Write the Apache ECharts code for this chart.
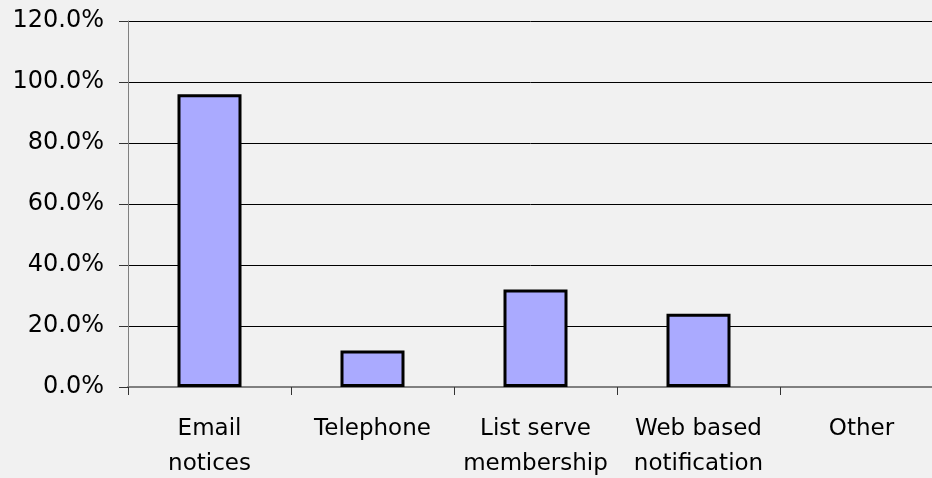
<!DOCTYPE html>
<html>
<head>
<meta charset="utf-8">
<script src="https://cdn.jsdelivr.net/npm/echarts@6/dist/echarts.min.js"></script>
<style>
  html, body { margin: 0; padding: 0; background: #f1f1f1; }
  #chart { width: 932px; height: 478px; }
</style>
</head>
<body>
<div id="chart"></div>
<script>
// chart data
const categories = ["Email\nnotices", "Telephone", "List serve\nmembership", "Web based\nnotification", "Other"];
const shares = [0.96, 0.12, 0.32, 0.24, 0];

let myChart = echarts.init(document.getElementById("chart"));

myChart.setOption({
  backgroundColor: "#f1f1f1",
  animation: false,
  textStyle: { fontFamily: "DejaVu Sans" },
  grid: {
    left: 128,
    top: 21,
    width: 815,
    bottom: 91,
    outerBoundsMode: "none",
    containLabel: false,
  },
  xAxis: {
    type: "category",
    data: categories,
    axisLine: { lineStyle: { color: "#808080", width: 2 } },
    axisTick: { show: true, length: 8, lineStyle: { color: "#333" } },
    axisLabel: {
      color: "#000",
      fontSize: 23,
      lineHeight: 35,
      margin: 25,
      interval: 0,
    },
  },
  yAxis: {
    type: "value",
    min: 0,
    max: 1.2,
    interval: 0.2,
    axisLine: { show: true, lineStyle: { color: "#808080", width: 1 } },
    axisTick: { show: true, length: 9, lineStyle: { color: "#333" } },
    splitLine: { lineStyle: { color: "#000", width: 1 } },
    axisLabel: {
      color: "#000",
      fontSize: 24,
      margin: 24,
      formatter: (v) => (v * 100).toFixed(1) + "%",
    },
  },
  series: [
    {
      type: "bar",
      data: shares.map((v) => ({
        value: v,
        itemStyle: v === 0 ? { borderWidth: 0 } : undefined,
      })),
      barWidth: 64,
      itemStyle: {
        color: "#aaaaff",
        borderColor: "#000",
        borderWidth: 3,
      },
    },
  ],
});
</script>
</body>
</html>
